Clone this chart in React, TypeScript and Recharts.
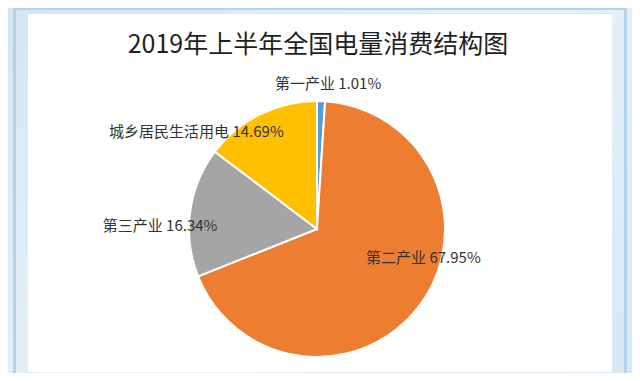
import { PieChart, Pie, Cell } from "recharts";

const categories = ["第一产业", "第二产业", "第三产业", "城乡居民生活用电"];
const shares = [1.01, 67.95, 16.34, 14.69];
const colors = ["#5B9BD5", "#ED7D31", "#A5A5A5", "#FFC000"];

// label placement tweaks: angle offset from slice middle (deg), distance from centre
const labelPlacement = [
  { dAngle: -2.5, r: 147 },
  { dAngle: 21.3, r: 110 },
  { dAngle: 6.2, r: 157 },
  { dAngle: 24.2, r: 156 },
];

const data = categories.map((name, i) => ({ name, value: shares[i] }));

const RAD = Math.PI / 180;

function renderLabel(props: any) {
  const { cx, cy, midAngle, index, name, value } = props;
  const p = labelPlacement[index];
  const a = (midAngle + p.dAngle) * RAD;
  const x = cx + p.r * Math.cos(a);
  const y = cy - p.r * Math.sin(a);
  return (
    <text
      x={x}
      y={y}
      textAnchor="middle"
      dominantBaseline="central"
      fill="#333333"
      fontSize={15}
      fontFamily="'Noto Sans CJK SC', 'Noto Sans', sans-serif"
    >
      {`${name} ${value.toFixed(2)}%`}
    </text>
  );
}

export default function App() {
  return (
    <div
      style={{
        position: "relative",
        width: 640,
        height: 381,
        margin: -8,
        background: "linear-gradient(135deg, #d3e6f4 0%, #e8f2fa 50%, #d6e8f5 100%)",
        overflow: "hidden",
      }}
    >
      <div
        style={{
          position: "absolute",
          left: 13,
          top: 7,
          width: 614,
          height: 369,
          border: "3px solid #b4d3ea",
          boxSizing: "border-box",
        }}
      />
      <div
        style={{
          position: "absolute",
          left: 28,
          top: 13,
          width: 584,
          height: 359,
          background: "#ffffff",
          borderTop: "1px solid #e2e2e2",
          boxSizing: "border-box",
        }}
      />
      <div
        style={{
          position: "absolute",
          left: 0,
          top: 26,
          width: 636,
          textAlign: "center",
          fontFamily: "'Noto Sans CJK SC', sans-serif",
          fontSize: 25,
          color: "#1f1f1f",
          lineHeight: "32px",
        }}
      >
        2019年上半年全国电量消费结构图
      </div>
      <div style={{ position: "absolute", left: 0, top: 0 }}>
        <PieChart width={640} height={381} margin={{ top: 0, right: 0, bottom: 0, left: 0 }}>
          <Pie
            data={data}
            dataKey="value"
            nameKey="name"
            cx={317}
            cy={229}
            outerRadius={128}
            startAngle={90}
            endAngle={-270}
            stroke="#ffffff"
            strokeWidth={2}
            label={renderLabel}
            labelLine={false}
            isAnimationActive={false}
          >
            {data.map((d, i) => (
              <Cell key={d.name} fill={colors[i]} />
            ))}
          </Pie>
        </PieChart>
      </div>
    </div>
  );
}
